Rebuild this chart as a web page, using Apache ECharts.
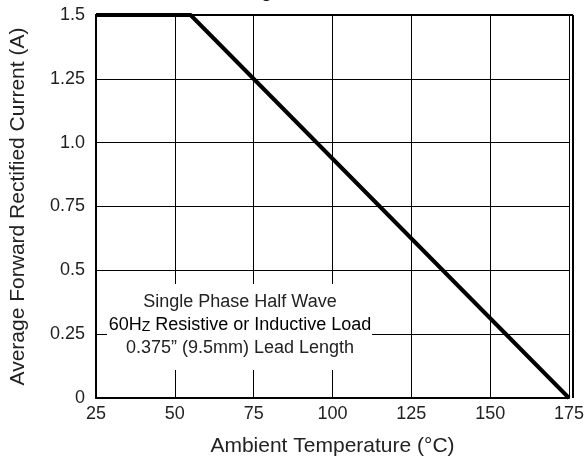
<!DOCTYPE html>
<html><head><meta charset="utf-8">
<script src="https://cdn.jsdelivr.net/npm/echarts@6/dist/echarts.min.js"></script>
<style>html,body{margin:0;padding:0;background:#fff}#c{width:587px;height:464px}</style>
</head><body><div id="c"></div>
<script>
var tempC = [25, 55, 175];
var currentA = [1.5, 1.5, 0];
var xTicks = [25, 50, 75, 100, 125, 150, 175];
var yTicks = [0, 0.25, 0.5, 0.75, 1.0, 1.25, 1.5];
var yLabels = {'0':'0','0.25':'0.25','0.5':'0.5','0.75':'0.75','1':'1.0','1.25':'1.25','1.5':'1.5'};

var chart = echarts.init(document.getElementById('c'));
var F = 'Liberation Sans, Arial, sans-serif';
chart.setOption({
  animation: false,
  title: {text: 'Forward Current Derating Curve', left: 48, top: -22,
    textStyle: {fontFamily: F, fontSize: 18, fontWeight: 'bold', color: '#000'}},
  grid: {left: 95, right: 14, top: 15, bottom: 66},
  xAxis: {type: 'value', min: 25, max: 175, interval: 25,
    name: 'Ambient Temperature (°C)', nameLocation: 'middle', nameGap: 38,
    nameTextStyle: {fontFamily: F, fontSize: 21, color: '#222'},
    axisLine: {show: true, lineStyle: {color: '#000', width: 2}},
    axisTick: {show: false},
    axisLabel: {fontFamily: F, fontSize: 18, color: '#222', margin: 7},
    splitLine: {show: true, lineStyle: {color: '#000', width: 1}}},
  yAxis: {type: 'value', min: 0, max: 1.5, interval: 0.25,
    name: 'Average Forward Rectified Current (A)', nameLocation: 'middle', nameGap: 67,
    nameTextStyle: {fontFamily: F, fontSize: 21, color: '#222'},
    axisLine: {show: true, lineStyle: {color: '#000', width: 2}},
    axisTick: {show: false},
    axisLabel: {fontFamily: F, fontSize: 18, color: '#222', margin: 11,
      formatter: function(v){ var k = String(v); return yLabels[k] !== undefined ? yLabels[k] : k; }},
    splitLine: {show: true, lineStyle: {color: '#000', width: 1}}},
  graphic: [
    {type: 'rect', shape: {x: 107, y: 284, width: 265, height: 86}, style: {fill: '#fff'}, z: 10},
    {type: 'text', x: 240, y: 302, z: 11, style: {text: 'Single Phase Half Wave', font: '18px ' + F, fill: '#222', align: 'center', verticalAlign: 'middle'}},
    {type: 'text', x: 240, y: 325, z: 11, style: {text: '{a|60H}{b|Z}{a| Resistive or Inductive Load}', align: 'center', verticalAlign: 'middle',
      rich: {a: {fontFamily: F, fontSize: 18, color: '#222'}, b: {fontFamily: F, fontSize: 14, color: '#222', verticalAlign: 'bottom'}}}},
    {type: 'text', x: 240, y: 348, z: 11, style: {text: '0.375\u201D (9.5mm) Lead Length', font: '18px ' + F, fill: '#222', align: 'center', verticalAlign: 'middle'}},
    {type: 'line', shape: {x1: 95, y1: 15, x2: 573, y2: 15}, style: {stroke: '#000', lineWidth: 2}, z: 5},
    {type: 'line', shape: {x1: 573, y1: 15, x2: 573, y2: 398}, style: {stroke: '#000', lineWidth: 2}, z: 5}
  ],
  series: [{type: 'line', data: tempC.map(function(t, i){ return [t, currentA[i]]; }),
    symbol: 'none', lineStyle: {color: '#000', width: 4}, z: 20, clip: false}]
});
</script></body></html>
